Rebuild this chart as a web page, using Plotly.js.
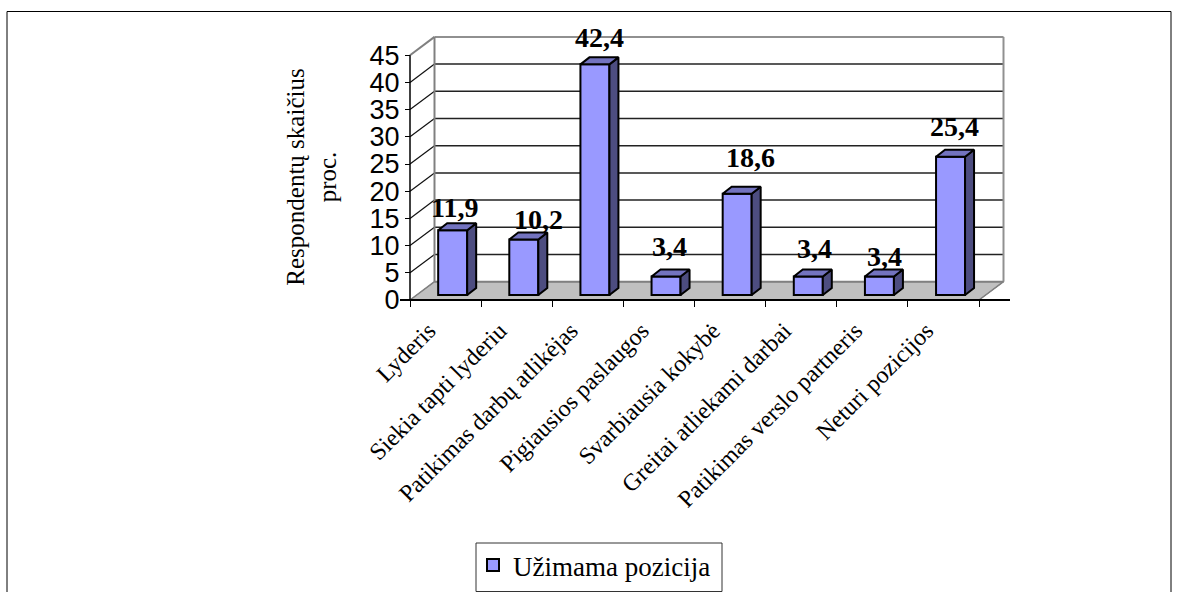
<!DOCTYPE html>
<html><head><meta charset="utf-8">
<script src="https://cdn.plot.ly/plotly-3.0.1.min.js"></script>
<style>html,body{margin:0;padding:0;background:#fff;overflow:hidden}</style>
</head><body><div id="chart" style="width:1179px;height:592px"></div>
<script>
const categories = ["Lyderis","Siekia tapti lyderiu","Patikimas darbų atlikėjas","Pigiausios paslaugos","Svarbiausia kokybė","Greitai atliekami darbai","Patikimas verslo partneris","Neturi pozicijos"];
const values = [11.9,10.2,42.4,3.4,18.6,3.4,3.4,25.4];
const valueLabels = ["11,9","10,2","42,4","3,4","18,6","3,4","3,4","25,4"];
const yTicks = [0,5,10,15,20,25,30,35,40,45];
const seriesName = "Užimama pozicija";
const yTitle = "Respondentų skaičius<br>proc.";

// pixel scale of the pseudo-3D construction
const pxX = 71.125, pxY = 5.44;
const L = 400, R = 1010, T = 30, B = 324, axisLeft = 410, axisBase = 300;
const xRange = [(L-axisLeft)/pxX, (R-axisLeft)/pxX];
const yRange = [(axisBase-B)/pxY, (axisBase-T)/pxY];
const wallDX = 24.5/pxX, wallDY = 18.3/pxY;
const barDX = 9/pxX, barDY = 7/pxY, barBase = 5/pxY, barW = 29/pxX, barOff = 0.6;
const labelShiftX = [2,15,5,3,13,6,5,4];
const labelShiftY = [23,20,27,30,36,28,20,30];
const n = categories.length;
const xEnd = n + wallDX, yTop = 45 + wallDY;

const centers = categories.map((c,i)=>i+barOff);
const sideFace = {x:[],y:[]}, topFace = {x:[],y:[]};
values.forEach((v,i)=>{
  const l=centers[i]-barW/2, r=centers[i]+barW/2, t=barBase+v;
  sideFace.x.push(r,r+barDX,r+barDX,r,r,null);
  sideFace.y.push(barBase,barBase+barDY,t+barDY,t,barBase,null);
  topFace.x.push(l,l+barDX,r+barDX,r,l,null);
  topFace.y.push(t,t+barDY,t+barDY,t,t,null);
});

const traces = [
 {type:'bar',x:centers,y:values,base:values.map(()=>barBase),width:barW,name:seriesName,showlegend:true,
  marker:{color:'#9999FF',line:{color:'#000',width:2}},hoverinfo:'y'},
 {type:'scatter',mode:'lines',x:sideFace.x,y:sideFace.y,fill:'toself',fillcolor:'#4D4D80',line:{color:'#000',width:2},showlegend:false,hoverinfo:'skip'},
 {type:'scatter',mode:'lines',x:topFace.x,y:topFace.y,fill:'toself',fillcolor:'#7373BF',line:{color:'#000',width:2},showlegend:false,hoverinfo:'skip'},
 {type:'scatter',mode:'lines',xaxis:'x2',x:[0,0],y:[0,45],line:{color:'#000',width:1.5},showlegend:false,hoverinfo:'skip'}
];

const shapes = [];
const ln=(x0,y0,x1,y1,color,w)=>shapes.push({type:'line',layer:'below',xref:'x',yref:'y',x0,y0,x1,y1,line:{color,width:w}});
shapes.push({type:'path',layer:'below',xref:'x',yref:'y',
  path:`M0,0 L${n},0 L${xEnd},${wallDY} L${wallDX},${wallDY} Z`,fillcolor:'#C0C0C0',line:{color:'#808080',width:1}});
yTicks.slice(1,-1).forEach(v=>{
  ln(0,v,wallDX,v+wallDY,'#111',1.2);
  ln(wallDX,v+wallDY,xEnd,v+wallDY,'#222',1.5);
});
ln(0,45,wallDX,yTop,'#808080',2);
ln(wallDX,yTop,xEnd,yTop,'#909090',2);
ln(wallDX,wallDY,wallDX,yTop,'#808080',2);
ln(xEnd,wallDY,xEnd,yTop,'#909090',2);
ln(wallDX,wallDY,xEnd,wallDY,'#808080',2);
ln(0,0,wallDX,wallDY,'#808080',1.5);
ln(n,0,xEnd,wallDY,'#808080',1.5);
// outer frame of the page and legend box
const w=R-L,h=B-T;
const px=(v)=>(v-L)/w, py=(v)=>(B-v)/h;
shapes.push({type:'path',xref:'paper',yref:'paper',layer:'below',
 path:`M${px(7)},-1 L${px(7)},${py(11.5)} L${px(1171)},${py(11.5)} L${px(1171)},-1`,line:{color:'#000',width:1}});
shapes.push({type:'rect',xref:'paper',yref:'paper',layer:'below',x0:px(476),x1:px(722),y0:py(591.5),y1:py(543),
 line:{color:'#333',width:1},fillcolor:'#fff'});

const annotations = values.map((v,i)=>({x:centers[i],y:barBase+v,xref:'x',yref:'y',text:valueLabels[i],showarrow:false,
  xshift:labelShiftX[i],yshift:labelShiftY[i],font:{family:'Liberation Serif',size:28,color:'#000',weight:700}}));

const layout = {
 width:1179,height:592,autosize:false,showlegend:true,
 paper_bgcolor:'#fff',plot_bgcolor:'rgba(0,0,0,0)',
 margin:{l:L,r:1179-R,t:T,b:592-B,pad:0,autoexpand:false},
 xaxis:{range:xRange,anchor:'free',position:(B-axisBase)/h,tickmode:'array',
   tickvals:categories.map((c,i)=>i+0.5),ticktext:categories,ticks:'',tickangle:-45,showgrid:false,zeroline:false,showline:false,
   ticklabelshift:-17,ticklabelstandoff:11,
   tickfont:{family:'Liberation Serif',size:24,color:'#000'},automargin:false,fixedrange:true},
 xaxis2:{range:xRange,overlaying:'x',anchor:'free',position:(B-axisBase)/h,side:'bottom',tickmode:'array',
   tickvals:[0,1,2,3,4,5,6,7,8],ticktext:['','','','','','','','',''],ticks:'outside',ticklen:6,tickwidth:1,tickcolor:'#000',
   showgrid:false,zeroline:false,showline:true,linecolor:'#000',linewidth:1.5,fixedrange:true},
 yaxis:{range:yRange,anchor:'free',position:(axisLeft-L)/w,tickmode:'array',tickvals:yTicks,ticktext:yTicks.map(String),
   ticks:'outside',ticklen:5,tickwidth:1.2,tickcolor:'#000',showgrid:false,zeroline:false,showline:false,
   tickfont:{family:'Liberation Sans',size:27,color:'#000'},automargin:false,fixedrange:true,
   title:{text:yTitle,standoff:24,font:{family:'Liberation Serif',size:25,color:'#000'}}},
 legend:{x:px(473),y:py(541),xanchor:'left',yanchor:'top',bgcolor:'rgba(0,0,0,0)',borderwidth:0,
   font:{family:'Liberation Serif',size:27,color:'#000'},itemclick:false,itemdoubleclick:false},
 shapes,annotations
};
Plotly.newPlot('chart',traces,layout,{displayModeBar:false,responsive:false});
</script></body></html>
